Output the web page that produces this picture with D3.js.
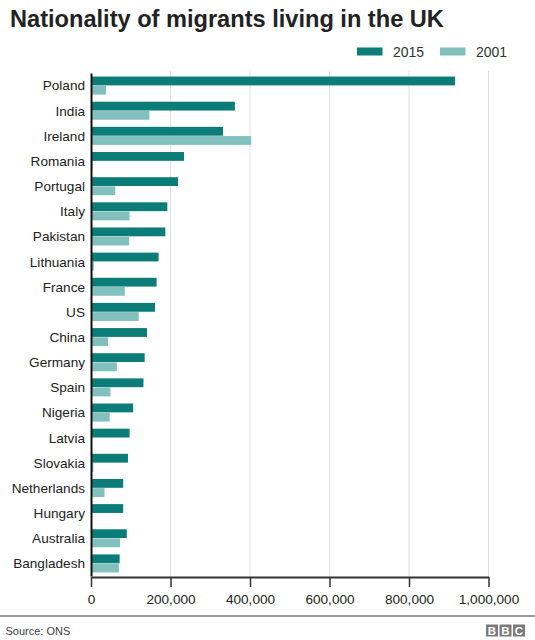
<!DOCTYPE html>
<html>
<head>
<meta charset="utf-8">
<script src="https://cdn.jsdelivr.net/npm/d3@7"></script>
<style>
  body { margin: 0; background: #fff; }
  svg { display: block; font-family: "Liberation Sans", Arial, sans-serif; }
</style>
</head>
<body>
<svg id="chart"></svg>
<script>
// data
var countries = ["Poland", "India", "Ireland", "Romania", "Portugal", "Italy", "Pakistan",
    "Lithuania", "France", "US", "China", "Germany", "Spain", "Nigeria", "Latvia",
    "Slovakia", "Netherlands", "Hungary", "Australia", "Bangladesh"];
var values2015 = [916000, 362000, 332000, 234000, 219000, 192000, 187000,
    170000, 165000, 161000, 141000, 135000, 132000, 106000, 97000,
    93000, 81000, 81000, 90000, 72000];
var values2001 = [38000, 147000, 403000, 4000, 61000, 97000, 96000,
    7000, 85000, 120000, 43000, 65000, 49000, 47000, 1000,
    6000, 34000, 2000, 73000, 70000];
var seriesNames = ["2015", "2001"];
var seriesColors = ["#0b7c77", "#82c0bd"];
var tickValues = [0, 200000, 400000, 600000, 800000, 1000000];

var width = 535, height = 640;

var svg = d3.select("#chart")
    .attr("width", width)
    .attr("height", height);

// scales
var x = d3.scaleLinear().domain([0, 1000000]).range([91, 488.5]);
var y = d3.scaleBand().domain(countries).range([73, 576]).paddingInner(0.284).paddingOuter(0.142);
var sub = d3.scaleBand().domain(seriesNames).range([0, y.bandwidth()]).paddingInner(0.04);
var color = d3.scaleOrdinal().domain(seriesNames).range(seriesColors);

// title
svg.append("text")
    .attr("x", 10)
    .attr("y", 27)
    .style("font-size", "23.6px")
    .style("font-weight", "bold")
    .style("fill", "#222")
    .text("Nationality of migrants living in the UK");

// legend
var legend = svg.selectAll(".legend")
    .data(seriesNames)
    .enter()
    .append("g")
    .attr("class", "legend")
    .attr("transform", function (d, i) { return "translate(" + (357 + i * 83) + ",0)"; });
legend.append("rect")
    .attr("x", 0)
    .attr("y", 47.5)
    .attr("width", 25.5)
    .attr("height", 8)
    .attr("fill", function (d) { return color(d); });
legend.append("text")
    .attr("x", 36)
    .attr("y", 56.5)
    .style("font-size", "14px")
    .style("fill", "#333")
    .text(function (d) { return d; });

// gridlines
svg.append("g")
    .selectAll("line")
    .data(tickValues.slice(1))
    .enter()
    .append("line")
    .attr("x1", function (d) { return x(d); })
    .attr("x2", function (d) { return x(d); })
    .attr("y1", 71)
    .attr("y2", 577)
    .attr("stroke", "#e0e0e0")
    .attr("stroke-width", 1);

// bars
var rows = countries.map(function (c, i) {
    return { country: c, values: [
        { key: "2015", value: values2015[i] },
        { key: "2001", value: values2001[i] }
    ] };
});
var groups = svg.append("g")
    .selectAll(".row")
    .data(rows)
    .enter()
    .append("g")
    .attr("class", "row")
    .attr("transform", function (d) { return "translate(0," + y(d.country) + ")"; });
groups.selectAll("rect")
    .data(function (d) { return d.values; })
    .enter()
    .append("rect")
    .attr("x", x(0))
    .attr("y", function (d) { return sub(d.key); })
    .attr("width", function (d) { return x(d.value) - x(0); })
    .attr("height", sub.bandwidth())
    .attr("fill", function (d) { return color(d.key); });

// x axis
var xAxis = svg.append("g")
    .attr("transform", "translate(0,577)")
    .call(d3.axisBottom(x)
        .tickValues(tickValues)
        .tickSize(10)
        .tickSizeOuter(0)
        .tickPadding(7)
        .tickFormat(d3.format(",")));
xAxis.select(".domain").attr("stroke", "#333").attr("stroke-width", 2);
xAxis.selectAll(".tick line").attr("stroke", "#333").attr("stroke-width", 1.5);
xAxis.selectAll(".tick text")
    .style("font-size", "13.6px")
    .style("font-family", "Liberation Sans, Arial, sans-serif")
    .style("fill", "#222");

// y axis
var yAxis = svg.append("g")
    .attr("transform", "translate(91,0)")
    .call(d3.axisLeft(y).tickSize(0).tickSizeOuter(0).tickPadding(6));
yAxis.select(".domain").attr("stroke", "#111").attr("stroke-width", 2);
yAxis.selectAll(".tick text")
    .attr("dy", "0.36em")
    .style("font-size", "13.6px")
    .style("font-family", "Liberation Sans, Arial, sans-serif")
    .style("fill", "#222");

// footer
svg.append("line")
    .attr("x1", 0)
    .attr("x2", width)
    .attr("y1", 616)
    .attr("y2", 616)
    .attr("stroke", "#999")
    .attr("stroke-width", 2);
svg.append("text")
    .attr("x", 5.5)
    .attr("y", 635)
    .style("font-size", "11px")
    .style("fill", "#404040")
    .text("Source: ONS");

var logo = svg.selectAll(".logo")
    .data(["B", "B", "C"])
    .enter()
    .append("g")
    .attr("class", "logo")
    .attr("transform", function (d, i) { return "translate(" + (486 + i * 13.5) + ",624.5)"; });
logo.append("rect")
    .attr("width", 12)
    .attr("height", 12)
    .attr("fill", "#7a7a7a");
logo.append("text")
    .attr("x", 6)
    .attr("y", 10.5)
    .attr("text-anchor", "middle")
    .style("font-size", "11.5px")
    .style("font-weight", "bold")
    .style("fill", "#fff")
    .text(function (d) { return d; });
</script>
</body>
</html>
